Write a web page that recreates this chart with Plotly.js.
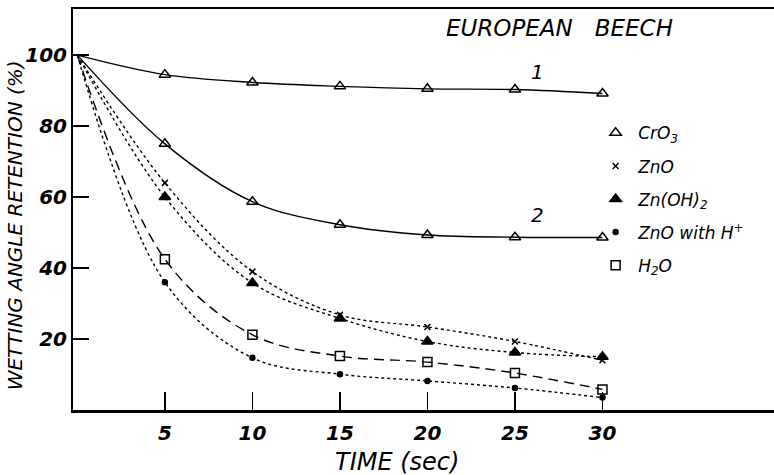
<!DOCTYPE html>
<html>
<head>
<meta charset="utf-8">
<script src="https://cdn.plot.ly/plotly-3.0.1.min.js"></script>
<style>html,body{margin:0;padding:0;background:#fff;}#chart{width:774px;height:475px;}</style>
</head>
<body>
<div id="chart"></div>
<script>
// Time (sec)
const time = [0, 5, 10, 15, 20, 25, 30];
// Wetting angle retention (%)
const cro3Curve1 = [100, 94.5, 92.3, 91.2, 90.5, 90.3, 89.2];
const cro3Curve2 = [100, 75, 58.7, 52.2, 49.3, 48.7, 48.6];
const znoVals    = [100, 64, 39, 26.8, 23.4, 19.3, 14];
const znoh2Vals  = [100, 60, 35.8, 25.8, 19.3, 16.2, 15];
const znoHVals   = [100, 36, 14.7, 10.1, 8.2, 6.2, 3.5];
const h2oVals    = [100, 42.5, 21.2, 15.2, 13.5, 10.4, 5.8];
const xTicks = [5, 10, 15, 20, 25, 30];
const yTicks = [20, 40, 60, 80, 100];
const legendNames = ['CrO<sub>3</sub>', 'ZnO', 'Zn(OH)<sub>2</sub>', 'ZnO with H<sup>+</sup>', 'H<sub>2</sub>O'];
const curveLabels = ['1', '2'];

const FONT = 'DejaVu Sans';
const pts = a => a.slice(1);
const tpts = time.slice(1);

function lineTrace(y, dash) {
  return {x: time, y: y, mode: 'lines', line: {color: '#000', width: 1.4, dash: dash, shape: 'spline', smoothing: 1},
          showlegend: false, hoverinfo: 'skip'};
}
function markTrace(y, symbol, size, name, show, group) {
  return {x: tpts, y: pts(y), mode: 'markers', name: name, showlegend: show, legendgroup: group,
          marker: {symbol: symbol, size: size, color: '#000', line: {color: '#000', width: 1.5}}};
}

const data = [
  lineTrace(cro3Curve1, 'solid'),
  lineTrace(cro3Curve2, 'solid'),
  lineTrace(znoVals, 'dot'),
  lineTrace(znoh2Vals, 'dot'),
  lineTrace(znoHVals, 'dot'),
  lineTrace(h2oVals, '10px,6px'),
  markTrace(cro3Curve1, 'triangle-up-open', 10, legendNames[0], true, 'g1'),
  markTrace(cro3Curve2, 'triangle-up-open', 10, legendNames[0], false, 'g1'),
  markTrace(znoVals, 'x-thin-open', 6, legendNames[1], true, 'g2'),
  markTrace(znoh2Vals, 'triangle-up', 10, legendNames[2], true, 'g3'),
  markTrace(znoHVals, 'circle', 5, legendNames[3], true, 'g4'),
  markTrace(h2oVals, 'square-open', 9, legendNames[4], true, 'g5')
];

const layout = {
  width: 774, height: 475,
  margin: {l: 73, r: 0, t: 9, b: 65},
  paper_bgcolor: '#fff', plot_bgcolor: '#fff',
  font: {family: FONT, color: '#000'},
  showlegend: true,
  legend: {x: 0.742, xanchor: 'left', y: 0.735, yanchor: 'top', bgcolor: 'rgba(0,0,0,0)',
           font: {family: FONT, size: 17, style: 'italic', color: '#000'},
           tracegroupgap: 8, itemwidth: 35},
  xaxis: {range: [-0.25, 39.8], showgrid: false, zeroline: false,
          showline: true, linecolor: '#000', linewidth: 2.5, mirror: true,
          ticks: 'inside', ticklen: 18, tickwidth: 1.5, tickcolor: '#000',
          tickvals: xTicks, ticktext: xTicks.map(String), ticklabelstandoff: 3,
          tickfont: {family: FONT, size: 20, style: 'italic', weight: 'bold', color: '#000'}},
  yaxis: {range: [0, 113], showgrid: false, zeroline: false,
          showline: true, linecolor: '#000', linewidth: 2,
          ticks: 'inside', ticklen: 16, tickwidth: 1.5, tickcolor: '#000',
          tickvals: yTicks, ticktext: yTicks.map(String),
          tickfont: {family: FONT, size: 20, style: 'italic', weight: 'bold', color: '#000'}},
  annotations: [
    {xref: 'paper', yref: 'paper', x: 0.694, y: 0.953, xanchor: 'center', yanchor: 'middle', showarrow: false,
     text: 'EUROPEAN\u00A0\u00A0\u00A0BEECH', font: {family: FONT, size: 23, style: 'italic', color: '#000'}},
    {xref: 'paper', yref: 'paper', x: 0.462, y: -0.13, xanchor: 'center', yanchor: 'middle', showarrow: false,
     text: 'TIME (sec)', font: {family: FONT, size: 24, style: 'italic', color: '#000'}},
    {xref: 'paper', yref: 'paper', x: -0.083, y: 0.46, xanchor: 'center', yanchor: 'middle', showarrow: false, textangle: -90,
     text: 'WETTING ANGLE RETENTION (%)', font: {family: FONT, size: 20, style: 'italic', color: '#000'}},
    {xref: 'x', yref: 'y', x: 26.3, y: 95.2, showarrow: false, text: curveLabels[0],
     font: {family: FONT, size: 20, style: 'italic', color: '#000'}},
    {xref: 'x', yref: 'y', x: 26.3, y: 55, showarrow: false, text: curveLabels[1],
     font: {family: FONT, size: 20, style: 'italic', color: '#000'}}
  ]
};

Plotly.newPlot('chart', data, layout, {displayModeBar: false, staticPlot: true});
</script>
</body>
</html>
